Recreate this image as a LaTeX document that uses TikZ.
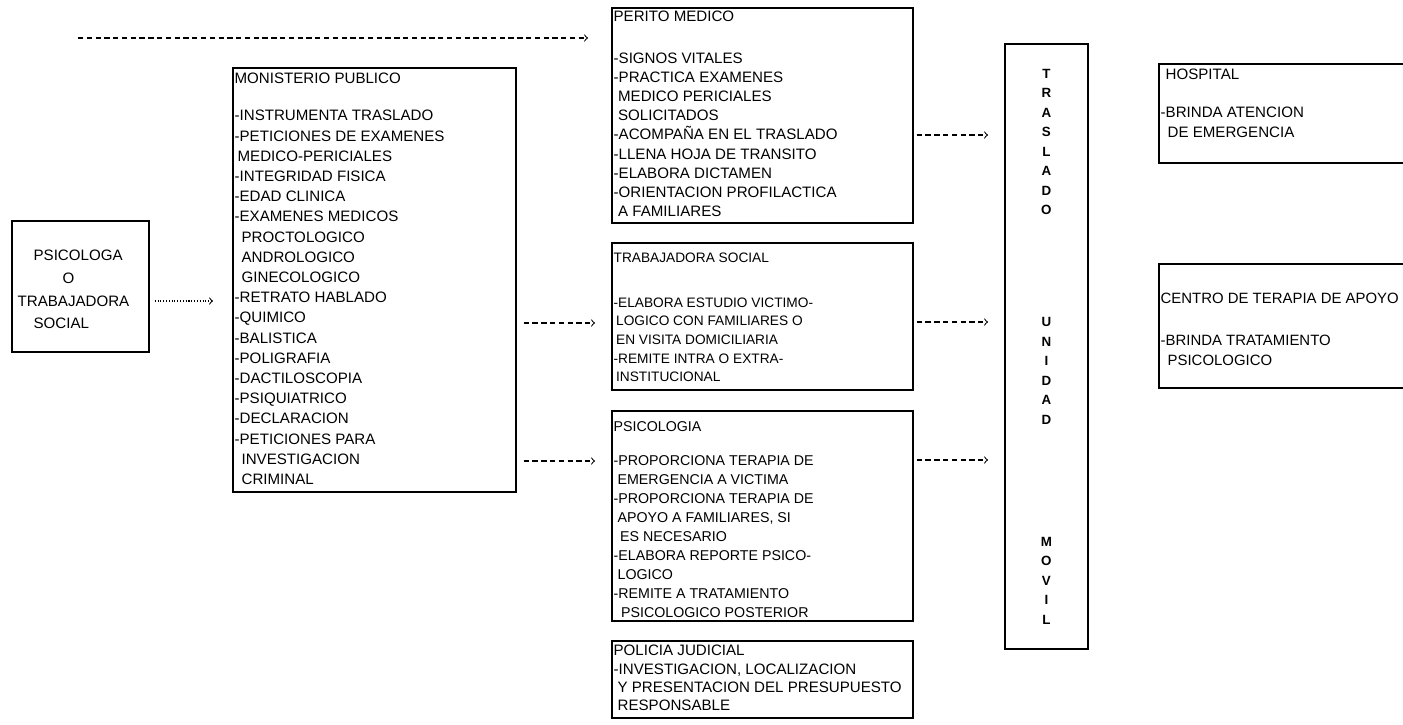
\documentclass[tikz,border=0pt]{standalone}
\usepackage{fontspec}
\setmainfont{Liberation Sans}
\newcommand{\texto}[3]{\parbox[t][#2][t]{\dimexpr#1-2pt\relax}{#3}}
\newcommand{\sg}[1]{\hspace*{#1}}

\begin{document}
\begin{tikzpicture}[x=0.02cm, y=-0.02cm,
        caja/.style={draw, line width=1pt, anchor=north west, inner xsep=1pt, inner ysep=0pt},
        flecha/.style={->, densely dashed, line width=0.6pt}]
    \useasboundingbox (0,0) rectangle (1403,724);

    \node[caja, font=\fontsize{8.6}{12.9}\selectfont] (psa) at (11,220)
        {\texto{2.74cm}{2.62cm}{\vspace*{0.59cm}\sg{0.4cm}PSICOLOGA\\
        \sg{0.98cm}O\\ \sg{0.08cm}TRABAJADORA\\ \sg{0.4cm}SOCIAL}};

    \node[caja, font=\fontsize{8.6}{11.5}\selectfont] (mp) at (232,67)
        {\texto{5.66cm}{8.48cm}{\vspace*{0.11cm}MONISTERIO PUBLICO\\[0.334cm]
        -INSTRUMENTA TRASLADO\\
        -PETICIONES DE EXAMENES\\
        \sg{0.06cm}MEDICO-PERICIALES\\
        -INTEGRIDAD FISICA\\
        -EDAD CLINICA\\
        -EXAMENES MEDICOS\\
        \sg{0.14cm}PROCTOLOGICO\\
        \sg{0.14cm}ANDROLOGICO\\
        \sg{0.14cm}GINECOLOGICO\\
        -RETRATO HABLADO\\
        -QUIMICO\\
        -BALISTICA\\
        -POLIGRAFIA\\
        -DACTILOSCOPIA\\
        -PSIQUIATRICO\\
        -DECLARACION\\
        -PETICIONES PARA\\
        \sg{0.14cm}INVESTIGACION\\
        \sg{0.14cm}CRIMINAL}};

    \node[caja, font=\fontsize{8.6}{10.9}\selectfont] (perito) at (611,7)
        {\texto{6.02cm}{4.3cm}{\vspace*{0.06cm}PERITO MEDICO\\[0.455cm]
        -SIGNOS VITALES\\
        -PRACTICA EXAMENES\\
        \sg{0.09cm}MEDICO PERICIALES\\
        \sg{0.09cm}SOLICITADOS\\
        -ACOMPAÑA EN EL TRASLADO\\
        -LLENA HOJA DE TRANSITO\\
        -ELABORA DICTAMEN\\
        -ORIENTACION PROFILACTICA\\
        \sg{0.09cm}A FAMILIARES}};

    \node[caja, font=\fontsize{7.8}{10.6}\selectfont] (trab) at (611,242)
        {\texto{6.02cm}{2.94cm}{\vspace*{0.2cm}TRABAJADORA SOCIAL\\[0.525cm]
        -ELABORA ESTUDIO VICTIMO-\\
        \sg{0.05cm}LOGICO CON FAMILIARES O\\
        \sg{0.05cm}EN VISITA DOMICILIARIA\\
        -REMITE INTRA O EXTRA-\\
        \sg{0.05cm}INSTITUCIONAL}};

    \node[caja, font=\fontsize{8.1}{10.85}\selectfont] (psi) at (611,410)
        {\texto{6.02cm}{4.2cm}{\vspace*{0.21cm}PSICOLOGIA\\[0.3cm]
        -PROPORCIONA TERAPIA DE\\
        \sg{0.08cm}EMERGENCIA A VICTIMA\\
        -PROPORCIONA TERAPIA DE\\
        \sg{0.08cm}APOYO A FAMILIARES, SI\\
        \sg{0.13cm}ES NECESARIO\\
        -ELABORA REPORTE PSICO-\\
        \sg{0.08cm}LOGICO\\
        -REMITE A TRATAMIENTO\\
        \sg{0.15cm}PSICOLOGICO POSTERIOR}};

    \node[caja, font=\fontsize{8.6}{10.4}\selectfont] (pol) at (611,640)
        {\texto{6.02cm}{1.54cm}{\vspace*{0.09cm}POLICIA JUDICIAL\\
        -INVESTIGACION, LOCALIZACION\\
        \sg{0.08cm}Y PRESENTACION DEL PRESUPUESTO\\
        \sg{0.08cm}RESPONSABLE}};

    \node[caja, font=\fontsize{7.6}{11.1}\selectfont\bfseries] (unidad) at (1004,43)
        {\texto{1.66cm}{12.1cm}{\centering\vspace*{0.5cm}T\\ R\\ A\\ S\\ L\\ A\\ D\\ O\\[1.85cm]
        U\\ N\\ I\\ D\\ A\\ D\\[2.05cm]
        M\\ O\\ V\\ I\\ L}};

    \node[caja, font=\fontsize{8.6}{11.3}\selectfont] (hosp) at (1158,63)
        {\texto{5.24cm}{1.98cm}{\vspace*{0.11cm}\sg{0.1cm}HOSPITAL\\[0.36cm]
        -BRINDA ATENCION\\
        \sg{0.14cm}DE EMERGENCIA}};

    \node[caja, font=\fontsize{8.5}{11.3}\selectfont] (centro) at (1158,263)
        {\texto{5.24cm}{2.48cm}{\vspace*{0.59cm}CENTRO DE TERAPIA DE APOYO\\[0.44cm]
        -BRINDA TRATAMIENTO\\
        \sg{0.14cm}PSICOLOGICO}};

    \coordinate (inicio) at (78,38);
    \draw[flecha, shorten >=0.46cm] (inicio) -- (inicio -| perito.west);
    \draw[flecha, densely dotted, shorten <=0.1cm, shorten >=0.38cm] (psa.east |- 0,301) -- (mp.west |- 0,301);
    \draw[flecha, shorten <=0.14cm, shorten >=0.32cm] (mp.east |- 0,323) -- (trab.west |- 0,323);
    \draw[flecha, shorten <=0.14cm, shorten >=0.32cm] (mp.east |- 0,461) -- (psi.west |- 0,461);
    \draw[flecha, shorten <=0.06cm, shorten >=0.32cm] (perito.east |- 0,135) -- (unidad.west |- 0,135);
    \draw[flecha, shorten <=0.06cm, shorten >=0.32cm] (trab.east |- 0,322) -- (unidad.west |- 0,322);
    \draw[flecha, shorten <=0.06cm, shorten >=0.32cm] (psi.east |- 0,460) -- (unidad.west |- 0,460);
\end{tikzpicture}
\end{document}
